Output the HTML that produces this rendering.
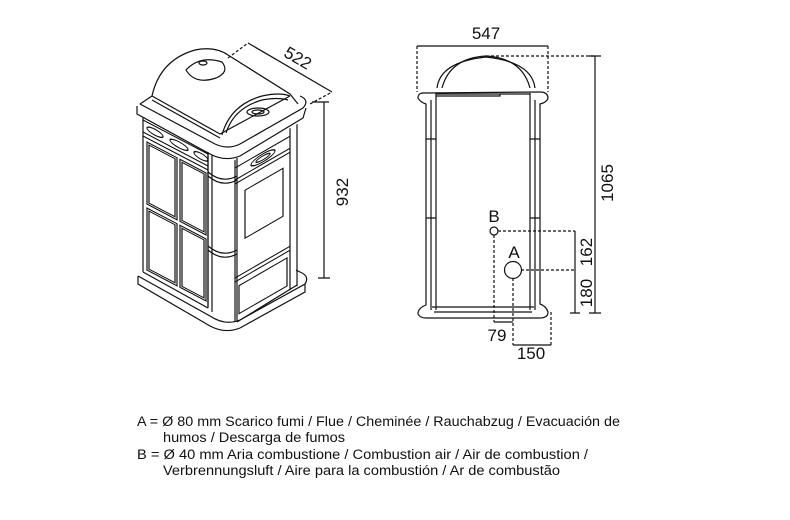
<!DOCTYPE html>
<html><head><meta charset="utf-8"><style>
html,body{margin:0;padding:0;background:#fff;}
svg{display:block}
text{font-family:"Liberation Sans",sans-serif;fill:#111}
</style></head><body>
<svg width="790" height="520" viewBox="0 0 790 520" xmlns="http://www.w3.org/2000/svg">
<g fill="none" stroke="#111" stroke-width="1.2">
<!-- plinth -->
<path d="M138,276 L210,316 Q225,326 240,320 L305,284 Q310,276 300,272 L296,270" />
<path d="M138,276 L138,284 L210,326 Q225,334 240,328 L305,292 L305,284"/>
<path d="M143,272 L208,308"/><path d="M237,322 L297,285"/>
<!-- left face -->
<g transform="translate(143,0) skewY(27.6)">
<path d="M0,118 L0,272 M65,118 L65,272"/>
<path d="M0,120 L65,120 M0,132 L65,132 M0,136 L65,136"/>
<ellipse cx="12" cy="126" rx="8" ry="3"/><ellipse cx="36" cy="126" rx="9" ry="3"/><ellipse cx="58" cy="126" rx="7" ry="3"/>
<rect x="4" y="140" width="30" height="62"/><rect x="6" y="142" width="26" height="58"/>
<rect x="37" y="140" width="26" height="62"/><rect x="39" y="142" width="22" height="58"/>
<rect x="4" y="206" width="30" height="62"/><rect x="6" y="208" width="26" height="58"/>
<rect x="37" y="206" width="26" height="62"/><rect x="39" y="208" width="22" height="58"/>
</g>
<!-- right face -->
<g transform="translate(235,0) skewY(-30)">
<path d="M0,160 L0,322 M62,160 L62,322 M55,160 L55,322"/>
<path d="M0,168 L55,168 M0,180 L55,180 M0,184 L55,184"/>
<ellipse cx="28" cy="174" rx="12" ry="4"/><ellipse cx="28" cy="174" rx="7" ry="2"/>
<rect x="10" y="196" width="38" height="48"/>
<path d="M0,278 L55,278 M0,282 L55,282"/>
<rect x="4" y="288" width="48" height="28"/>
</g>
<!-- corner column -->
<path d="M208,152 L208,308 M237,158 L237,322 M212,155 L212,312"/>
<path d="M208,172 Q222,184 237,176 M208,176 Q222,188 237,180"/>
<path d="M208,246 Q222,258 237,250 M208,250 Q222,262 237,254"/>
<!-- cornice slab -->
<path d="M140,104 L215,144 Q228,150 240,144 L303,108 Q310,100 300,96"/>
<path d="M137,106 L137,114 L210,154 Q225,162 240,156 L303,118 L306,108"/>
<path d="M140,104 L152,96"/>
<!-- dome -->
<path d="M152,96 Q160,60 195,50 Q215,46 228,55 L290,94 L298,104"/>
<path d="M152,96 L220,134 L290,96"/>
<path d="M152,100 L220,138"/>
<path d="M222,135 Q230,105 262,96 Q280,92 290,96"/>
<path d="M226,133 Q234,108 262,100 Q278,97 288,100"/>
<path d="M186,70 Q200,55 222,62 Q230,72 216,78 Q195,85 186,70 Z"/>
<ellipse cx="203" cy="63" rx="4" ry="2"/>
<ellipse cx="258" cy="112" rx="11" ry="4"/><ellipse cx="258" cy="112" rx="6" ry="2"/>
<!-- 522 / 932 dims -->
<path d="M228,58 L248,43" stroke-dasharray="3,2"/>
<path d="M248,43 L332,92"/>
<path d="M310,104 L332,92" stroke-dasharray="3,2"/>
<path d="M312,102 L329,102 M324,102 L324,278 M318,278 L330,278"/>

<!-- FRONT VIEW -->
<path d="M417,46 L548,46"/>
<path d="M417,46 L417,92 M548,46 L548,92" stroke-dasharray="3,2"/>
<path d="M442,88 Q450,58 486,56 Q522,58 530,88"/>
<path d="M437,88 Q440,62 486,57 M486,57 Q532,62 535,88"/>
<path d="M486,56 L595,56" stroke-dasharray="3,2"/>
<path d="M426,93 Q418,92 418,98 Q420,102 426,104 L426,305 Q418,308 418,314 Q420,318 426,318 L540,318 Q548,318 548,312 Q546,306 540,304 L540,104 Q548,102 548,97 Q547,92 540,92 Z"/>
<path d="M431,100 L431,310 M436,93 L436,310 M530,93 L530,310 M535,100 L535,310"/>
<path d="M436,94 L530,94 M436,96 L500,96 L500,94"/>
<path d="M426,139 L436,139 M426,218 L436,218 M530,139 L540,139 M530,218 L540,218"/>
<path d="M432,307 L534,307 M434,312 L532,312"/>
<!-- dims -->
<path d="M589,56 L601,56 M595,56 L595,313 M589,313 L601,313"/>
<circle cx="494" cy="231" r="4"/>
<circle cx="513" cy="270" r="8.5"/>
<path d="M498,231 L575,231 M521,270 L575,270" stroke-dasharray="3,2"/>
<path d="M575,231 L575,313 M570,313 L580,313"/>
<path d="M494,235 L494,322 M513,278 L513,345 M551,312 L551,345" stroke-dasharray="3,2"/>
<path d="M494,322 L513,322 M513,345 L551,345"/>
</g>
<g font-size="17">
<text x="486" y="39" text-anchor="middle">547</text>
<text x="531" y="359" text-anchor="middle">150</text>
<text x="497" y="341" text-anchor="middle">79</text>
<text x="494" y="222" text-anchor="middle">B</text>
<text x="514" y="258" text-anchor="middle">A</text>
<text transform="translate(613,183) rotate(-90)" text-anchor="middle">1065</text>
<text transform="translate(592,252) rotate(-90)" text-anchor="middle">162</text>
<text transform="translate(592,293) rotate(-90)" text-anchor="middle">180</text>
<text transform="translate(348,192) rotate(-90)" text-anchor="middle">932</text>
<text transform="translate(295,63) rotate(30)" text-anchor="middle">522</text>
</g>
<g font-size="13.5">
<text x="137" y="426" textLength="483" lengthAdjust="spacingAndGlyphs">A = Ø 80 mm  Scarico fumi / Flue / Cheminée / Rauchabzug / Evacuación de</text>
<text x="163" y="442" textLength="182" lengthAdjust="spacingAndGlyphs">humos / Descarga de fumos</text>
<text x="137" y="459" textLength="451" lengthAdjust="spacingAndGlyphs">B = Ø 40 mm  Aria combustione / Combustion air / Air de combustion /</text>
<text x="163" y="475" textLength="397" lengthAdjust="spacingAndGlyphs">Verbrennungsluft / Aire para la combustión / Ar de combustão</text>
</g>
</svg>
</body></html>
